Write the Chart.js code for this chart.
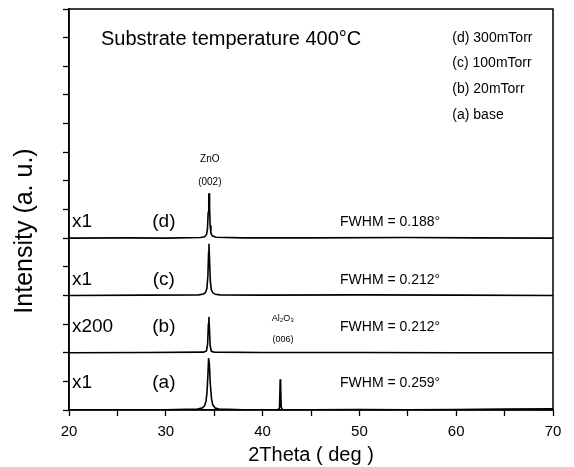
<!DOCTYPE html>
<html>
<head>
<meta charset="utf-8">
<script src="https://cdn.jsdelivr.net/npm/chart.js@4"></script>
<style>
  html, body { margin: 0; padding: 0; background: #fff; }
  #wrap { width: 574px; height: 467px; }
</style>
</head>
<body>
<div id="wrap"><canvas id="xrd"></canvas></div>
<script>
// XRD scans, four films stacked with an offset (arbitrary units)
const baselines = [0, 2, 4, 6];

const aTheta = [20, 25, 30, 33.3, 33.8, 34.0, 34.15, 34.25, 34.35, 34.42, 34.5, 34.6, 34.72, 34.85, 35.1, 35.5, 38, 41.6, 41.75, 41.82, 41.86, 41.92, 42.05, 45, 50, 55, 60, 65, 70];
const aInt   = [0, 0.01, 0.01, 0.03, 0.08, 0.15, 0.3, 0.6, 1.2, 1.81, 1.6, 0.9, 0.4, 0.18, 0.07, 0.03, 0.01, 0.01, 0.08, 1.07, 0.9, 0.1, 0.01, 0.01, 0.02, 0.01, 0.02, 0.03, 0.04];

const bTheta = [20, 28, 33.9, 34.2, 34.32, 34.4, 34.45, 34.5, 34.58, 34.7, 35.0, 40, 50, 60, 70];
const bInt   = [0, 0.01, 0.02, 0.06, 0.3, 1.0, 1.25, 0.9, 0.25, 0.05, 0.02, 0.01, 0.01, 0, 0];

const cTheta = [20, 28, 33.4, 33.9, 34.1, 34.25, 34.35, 34.42, 34.46, 34.52, 34.6, 34.7, 34.85, 35.1, 35.6, 40, 50, 60, 70];
const cInt   = [0, 0.01, 0.02, 0.05, 0.1, 0.25, 0.7, 1.5, 1.8, 1.2, 0.5, 0.2, 0.1, 0.04, 0.02, 0.01, 0.02, 0.01, 0];

const dTheta = [20, 26, 30, 33.6, 34.0, 34.2, 34.3, 34.38, 34.44, 34.47, 34.52, 34.58, 34.66, 34.8, 35.2, 38, 45, 55, 62, 70];
const dInt   = [0, 0.01, 0, 0.02, 0.05, 0.12, 0.3, 0.9, 1.5, 1.57, 1.1, 0.45, 0.18, 0.08, 0.03, 0.01, 0.01, 0.02, 0.01, 0];

const traceNames = ['(a)', '(b)', '(c)', '(d)'];
const gainLabels = ['x1', 'x200', 'x1', 'x1'];
const fwhmLabels = ['FWHM = 0.259°', 'FWHM = 0.212°', 'FWHM = 0.212°', 'FWHM = 0.188°'];
const legendLines = ['(d) 300mTorr', '(c) 100mTorr', '(b) 20mTorr', '(a) base'];

const xTicks = [20, 30, 40, 50, 60, 70];

const traces = [[aTheta, aInt], [bTheta, bInt], [cTheta, cInt], [dTheta, dInt]];

const datasets = traces.map(([th, it], i) => ({
  label: traceNames[i],
  data: th.map((t, k) => ({ x: t, y: it[k] + baselines[i] })),
  borderColor: '#000',
  borderWidth: 1.6,
  pointRadius: 0,
  tension: 0,
  fill: false
}));

const FONT = '"Liberation Sans", Arial, sans-serif';

// text placed in data coordinates [2theta, intensity]
const notes = [
  { text: 'Substrate temperature 400°C', x: 23.3, y: 12.95, size: 20, align: 'left' },
  { text: legendLines[0], x: 59.6, y: 13.0, size: 14, align: 'left' },
  { text: legendLines[1], x: 59.6, y: 12.1, size: 14, align: 'left' },
  { text: legendLines[2], x: 59.6, y: 11.2, size: 14, align: 'left' },
  { text: legendLines[3], x: 59.6, y: 10.3, size: 14, align: 'left' },
  { text: 'ZnO', x: 34.55, y: 8.74, size: 10, align: 'center' },
  { text: '(002)', x: 34.55, y: 7.94, size: 10, align: 'center' },
  { text: 'Al₂O₃', x: 42.1, y: 3.2, size: 9, align: 'center' },
  { text: '(006)', x: 42.1, y: 2.45, size: 9, align: 'center' }
];
const rowY = [0.94, 2.9, 4.55, 6.57];
rowY.forEach((y, i) => {
  notes.push({ text: gainLabels[i], x: 20.3, y: y, size: 19, align: 'left' });
  notes.push({ text: traceNames[i], x: 29.8, y: y, size: 19, align: 'center' });
  notes.push({ text: fwhmLabels[i], x: 48.0, y: y, size: 14, align: 'left' });
});

const notesPlugin = {
  id: 'notes',
  afterDatasetsDraw(chart) {
    const { ctx, chartArea, scales } = chart;
    ctx.save();
    ctx.strokeStyle = '#000';
    ctx.lineWidth = 1.5;
    ctx.strokeRect(chartArea.left, chartArea.top, chartArea.right - chartArea.left, chartArea.bottom - chartArea.top);
    ctx.fillStyle = '#000';
    ctx.textBaseline = 'middle';
    notes.forEach(n => {
      ctx.font = n.size + 'px ' + FONT;
      ctx.textAlign = n.align;
      ctx.fillText(n.text, scales.x.getPixelForValue(n.x), scales.y.getPixelForValue(n.y));
    });
    // y axis title, sits a bit below the middle of the axis in the original
    ctx.translate(25, scales.y.getPixelForValue(6.25));
    ctx.rotate(-Math.PI / 2);
    ctx.textAlign = 'center';
    ctx.font = '25px ' + FONT;
    ctx.fillText('Intensity (a. u.)', 0, 0);
    ctx.restore();
  }
};

new Chart(document.getElementById('xrd'), {
  type: 'line',
  data: { datasets },
  options: {
    responsive: true,
    maintainAspectRatio: false,
    animation: false,
    layout: { padding: { top: 9, right: 21, left: 0, bottom: 0 } },
    plugins: { legend: { display: false }, tooltip: { enabled: false } },
    scales: {
      x: {
        type: 'linear',
        min: 20, max: 70,
        afterBuildTicks: s => { s.ticks = [20, 25, 30, 35, 40, 45, 50, 55, 60, 65, 70].map(v => ({ value: v })); },
        ticks: {
          color: '#000',
          font: { family: FONT, size: 15 },
          padding: 7,
          maxRotation: 0,
          autoSkip: false,
          callback: v => xTicks.includes(v) ? String(v) : ''
        },
        grid: { drawOnChartArea: false, tickLength: 6, color: '#000', tickWidth: 1.3 },
        border: { color: '#000', width: 1.5 },
        title: {
          display: true, text: '2Theta ( deg )', color: '#000',
          font: { family: FONT, size: 20 },
          padding: { top: 0, bottom: 0 }
        },
        afterFit: s => { s.height = 57; }
      },
      y: {
        min: 0, max: 14,
        ticks: { display: false, stepSize: 1 },
        grid: { drawOnChartArea: false, tickLength: 6, color: '#000', tickWidth: 1.3 },
        border: { color: '#000', width: 1.5 },
        afterFit: s => { s.width = 69; }
      }
    }
  },
  plugins: [notesPlugin]
});
</script>
</body>
</html>
